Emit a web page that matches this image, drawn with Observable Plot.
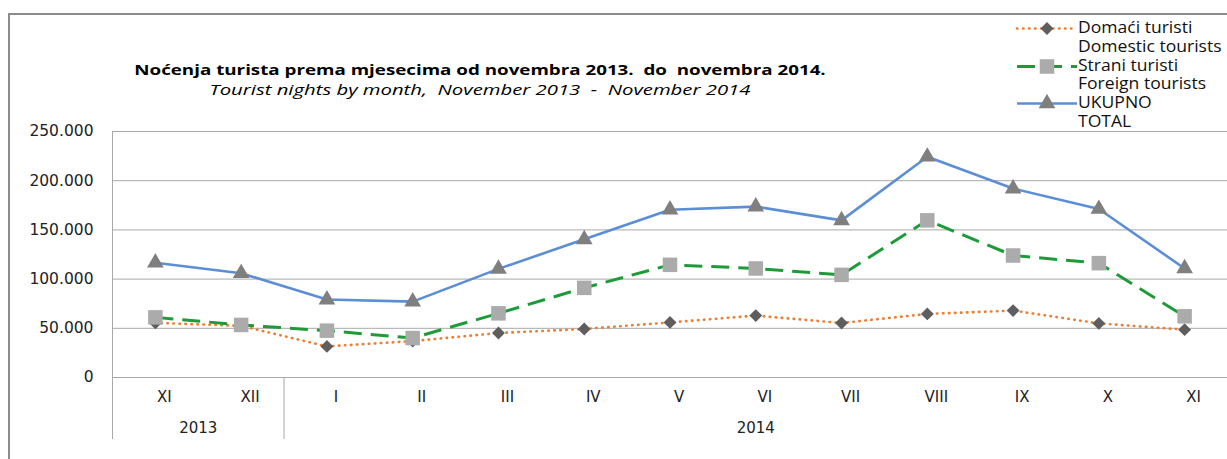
<!DOCTYPE html>
<html>
<head>
<meta charset="utf-8">
<script src="https://cdn.jsdelivr.net/npm/d3@7"></script>
<script src="https://cdn.jsdelivr.net/npm/@observablehq/plot@0.6"></script>
<style>
  html, body { margin: 0; padding: 0; overflow: hidden; background: #fff; }
  #wrap { position: relative; width: 1227px; height: 459px; font-family: "Open Sans", sans-serif; }
  #frame { position: absolute; left: 8px; top: 13px; right: 0; bottom: 0; border-left: 2px solid #8c8c8c; border-top: 2px solid #8c8c8c; }
  #chart { position: absolute; left: 0; top: 0; }
  .title { position: absolute; left: 0; width: 960px; text-align: center; white-space: pre; color: #000; transform-origin: 480px 50%; }
  #t1 { top: 60px; font-size: 13.5px; font-weight: bold; line-height: 20px; transform: scaleX(1.39); }
  #t2 { top: 80px; font-size: 14px; font-style: italic; line-height: 20px; transform: scaleX(1.45); }
  #legend { position: absolute; left: 1015px; top: 19px; color: #111; }
  .row { height: 18.8px; line-height: 18.8px; display: flex; align-items: center; white-space: nowrap; }
  .row span { font-size: 15.4px; display: inline-block; transform: scaleX(1.14); transform-origin: 0 50%; }
  .sw { width: 63px; height: 19px; flex: none; }
</style>
</head>
<body>
<div id="wrap">
  <div id="frame"></div>
  <div id="chart"></div>
  <div class="title" id="t1">Noćenja turista prema mjesecima od novembra 2013.  do  novembra 2014.</div>
  <div class="title" id="t2">Tourist nights by month,  November 2013  -  November 2014</div>
  <div id="legend"></div>
</div>
<script>
// ---- data ----
const months = ["XI", "XII", "I", "II", "III", "IV", "V", "VI", "VII", "VIII", "IX", "X", "XI"];
const years = [
  {label: "2013", start: 0, end: 1},
  {label: "2014", start: 2, end: 12}
];
const domestic = [55500, 52500, 31600, 37000, 45200, 49300, 56000, 62900, 55400, 64600, 68000, 55000, 48600];
const foreign  = [61100, 53400, 47600, 40100, 65200, 91100, 114500, 110800, 104300, 159700, 124000, 116200, 62200];
const total    = [116600, 105900, 79200, 77100, 110400, 140400, 170500, 173700, 159700, 224300, 192000, 171200, 110800];
const yTicks = [0, 50000, 100000, 150000, 200000, 250000];
const seriesNames = [
  ["Domaći turisti", "Domestic tourists"],
  ["Strani turisti", "Foreign tourists"],
  ["UKUPNO", "TOTAL"]
];

// ---- styles ----
const styles = [
  {values: domestic, stroke: "#ED7D31", width: 2.6, dash: "0.5 5.5", cap: "round", symbol: "diamond2", r: 5.8, fill: "#5E5E5E"},
  {values: foreign,  stroke: "#1E9B38", width: 3,   dash: "18 9",    cap: "butt",  symbol: "square",   r: 8.2, fill: "#ABABAB"},
  {values: total,    stroke: "#5B8ED6", width: 2.6, dash: null,      cap: "butt",  symbol: "triangle", r: 6.2, fill: "#7F7F7F"}
];

const idx = months.map((m, i) => i);
const fmt = d => d === 0 ? "0" : d3.format(",")(d).replace(/,/g, ".");
const tickFont = "'DejaVu Sans', sans-serif";

const marks = [
  Plot.ruleY(yTicks, {stroke: "#a8a8a8", strokeWidth: 1}),
  Plot.ruleX([years[0].start - 0.5], {stroke: "#a8a8a8", strokeWidth: 1}),
  Plot.ruleX(years, {x: d => d.start - 0.5, y1: () => 0, y2: () => 0, insetBottom: -62, stroke: "#a8a8a8", strokeWidth: 1})
];
for (const s of styles) {
  marks.push(Plot.line(idx, {x: i => i, y: i => s.values[i], stroke: s.stroke, strokeWidth: s.width,
    strokeDasharray: s.dash, strokeLinecap: s.cap, strokeLinejoin: "round"}));
  marks.push(Plot.dot(idx, {x: i => i, y: i => s.values[i], symbol: () => s.symbol, r: s.r, fill: s.fill, stroke: "none"}));
}
marks.push(
  Plot.axisY(yTicks, {tickSize: 0, tickPadding: 19, tickFormat: fmt, fontSize: 15.5, fill: "#222"}),
  Plot.axisX(idx, {tickSize: 0, tickPadding: 14, tickFormat: i => months[i], dx: 9, fontSize: 15, fill: "#222"}),
  Plot.text(years, {x: d => (d.start + d.end) / 2, y: () => 0, dy: 51, text: "label", fontSize: 15, fill: "#222"})
);

const chart = Plot.plot({
  width: 1227,
  height: 459,
  marginLeft: 112,
  marginRight: 0,
  marginTop: 131,
  marginBottom: 82,
  style: {fontFamily: tickFont, background: "transparent", overflow: "visible"},
  x: {type: "linear", domain: [-0.5, months.length - 0.5], axis: null},
  y: {domain: [0, 250000], axis: null},
  symbol: {type: "identity"},
  marks
});
document.getElementById("chart").appendChild(chart);

// ---- legend ----
const legend = d3.select("#legend");
styles.forEach((s, k) => {
  const row = legend.append("div").attr("class", "row");
  const svg = row.append("svg").attr("class", "sw").attr("width", 63).attr("height", 19);
  svg.append("line").attr("x1", 2).attr("x2", 62).attr("y1", 9.5).attr("y2", 9.5)
    .attr("stroke", s.stroke).attr("stroke-width", s.width)
    .attr("stroke-dasharray", s.dash).attr("stroke-linecap", s.cap);
  const symType = {diamond2: d3.symbolDiamond2, square: d3.symbolSquare, triangle: d3.symbolTriangle}[s.symbol];
  svg.append("path").attr("transform", "translate(32,9.5)")
    .attr("d", d3.symbol(symType, Math.PI * s.r * s.r)()).attr("fill", s.fill);
  row.append("span").text(seriesNames[k][0]);
  const row2 = legend.append("div").attr("class", "row");
  row2.append("div").attr("class", "sw");
  row2.append("span").text(seriesNames[k][1]);
});
</script>
</body>
</html>
